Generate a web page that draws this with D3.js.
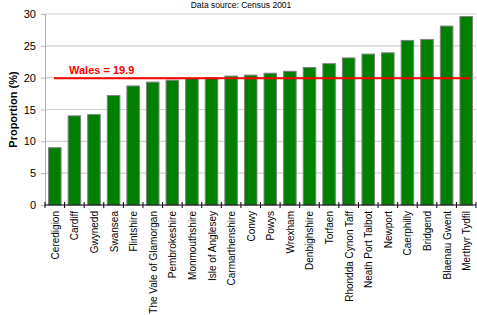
<!DOCTYPE html>
<html>
<head>
<meta charset="utf-8">
<script src="https://cdn.jsdelivr.net/npm/d3@7"></script>
<style>
  body { margin: 0; background: #fff; }
  text { font-family: "Liberation Sans", Arial, sans-serif; }
</style>
</head>
<body>
<div id="chart"></div>
<script>
// datos
var areas = ["Ceredigion", "Cardiff", "Gwynedd", "Swansea", "Flintshire", "The Vale of Glamorgan",
  "Pembrokeshire", "Monmouthshire", "Isle of Anglesey", "Carmarthenshire", "Conwy", "Powys",
  "Wrexham", "Denbighshire", "Torfaen", "Rhondda Cynon Taff", "Neath Port Talbot", "Newport",
  "Caerphilly", "Bridgend", "Blaenau Gwent", "Merthyr Tydfil"];
var proportion = [9.0, 14.0, 14.2, 17.2, 18.7, 19.3, 19.6, 19.9, 20.0, 20.25, 20.4, 20.7,
  21.0, 21.6, 22.2, 23.1, 23.7, 23.9, 25.85, 26.0, 28.1, 29.6];
var yTicks = [0, 5, 10, 15, 20, 25, 30];
var walesValue = 19.9;

var width = 477;
var height = 315;
var plotLeft = 45, plotRight = 476, plotTop = 14, plotBottom = 205;

var svg = d3.select("#chart")
            .append("svg")
            .attr("width", width)
            .attr("height", height);

// escalas
var x = d3.scaleBand()
          .domain(areas)
          .range([plotLeft, plotRight])
          .paddingInner(0.36)
          .paddingOuter(0.18);
var y = d3.scaleLinear()
          .domain([0, 30])
          .range([plotBottom, plotTop]);

// lineas de la cuadricula
svg.append("g")
   .selectAll("line")
   .data(yTicks.filter(function(d) { return d > 0; }))
   .enter()
   .append("line")
   .attr("x1", plotLeft)
   .attr("x2", plotRight)
   .attr("y1", function(d) { return y(d); })
   .attr("y2", function(d) { return y(d); })
   .attr("stroke", "#d0d0d0")
   .attr("stroke-width", 1.2);

// eje Y
var yAxis = svg.append("g")
   .attr("transform", "translate(" + plotLeft + ",0)")
   .call(d3.axisLeft(y).tickValues(yTicks).tickSize(4).tickPadding(5));
yAxis.select(".domain").attr("stroke", "#b0b0b0");
yAxis.selectAll(".tick line").attr("stroke", "#b0b0b0");
yAxis.selectAll("text").style("font-size", "11px").attr("fill", "#000");

// barras
svg.append("g")
   .selectAll("rect")
   .data(areas)
   .enter()
   .append("rect")
   .attr("x", function(d) { return x(d); })
   .attr("y", function(d, i) { return y(proportion[i]); })
   .attr("width", x.bandwidth())
   .attr("height", function(d, i) { return plotBottom - y(proportion[i]); })
   .attr("fill", "#008000")
   .attr("stroke", "#808080")
   .attr("stroke-width", 1);

// eje X
var step = x.step();
var sepTicks = areas.map(function(d, i) { return plotLeft + i * step; }).concat([plotRight]);
svg.append("line")
   .attr("x1", plotLeft).attr("x2", plotRight)
   .attr("y1", plotBottom).attr("y2", plotBottom)
   .attr("stroke", "#000");
svg.append("g")
   .selectAll("line")
   .data(sepTicks)
   .enter()
   .append("line")
   .attr("x1", function(d) { return d; })
   .attr("x2", function(d) { return d; })
   .attr("y1", plotBottom - 3)
   .attr("y2", plotBottom + 3)
   .attr("stroke", "#000");

svg.append("g")
   .selectAll("text")
   .data(areas)
   .enter()
   .append("text")
   .attr("transform", function(d) {
     return "translate(" + (x(d) + x.bandwidth() / 2 + 4) + "," + (plotBottom + 6) + ") rotate(-90)";
   })
   .style("text-anchor", "end")
   .style("font-size", "10px")
   .text(function(d) { return d; });

// linea de Gales
svg.append("line")
   .attr("x1", 54)
   .attr("x2", 470)
   .attr("y1", y(walesValue))
   .attr("y2", y(walesValue))
   .attr("stroke", "#ff0000")
   .attr("stroke-width", 2);
svg.append("text")
   .attr("x", 69)
   .attr("y", y(walesValue) - 4)
   .attr("fill", "#ff0000")
   .style("font-weight", "bold")
   .style("font-size", "11px")
   .text("Wales = " + walesValue);

// titulos
svg.append("text")
   .attr("x", 241)
   .attr("y", 8)
   .style("text-anchor", "middle")
   .style("font-size", "8.5px")
   .text("Data source: Census 2001");

svg.append("text")
   .attr("transform", "translate(17," + ((plotTop + plotBottom) / 2) + ") rotate(-90)")
   .style("text-anchor", "middle")
   .style("font-weight", "bold")
   .style("font-size", "11px")
   .text("Proportion (%)");
</script>
</body>
</html>
